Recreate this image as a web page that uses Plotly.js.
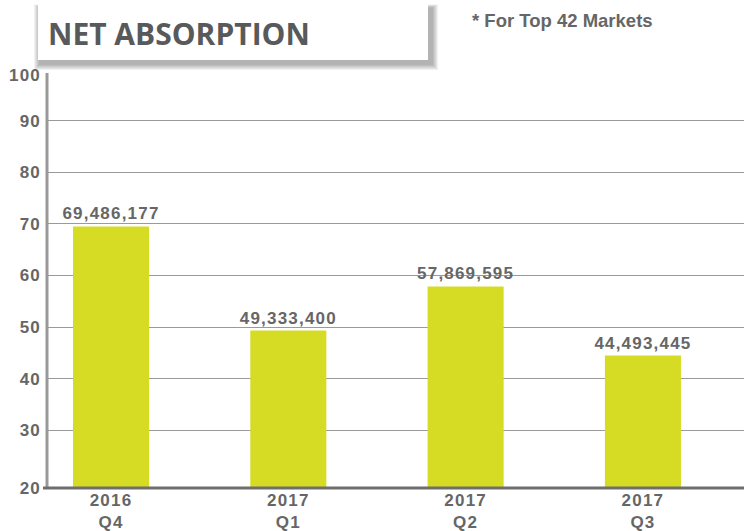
<!DOCTYPE html>
<html><head><meta charset="utf-8">
<script src="https://cdn.plot.ly/plotly-3.0.1.min.js"></script>
<style>
html,body{margin:0;padding:0;background:#fff;}
.xtick text,.ytick text,text.bartext{letter-spacing:1.2px;}
</style></head>
<body><div id="chart" style="width:744px;height:531px;"></div>
<script>
const categories = ["2016<br>Q4", "2017<br>Q1", "2017<br>Q2", "2017<br>Q3"];
const valuesMillions = [69.486177, 49.3334, 57.869595, 44.493445];
const valueLabels = ["69,486,177", "49,333,400", "57,869,595", "44,493,445"];
const yTickLabels = ["20", "30", "40", "50", "60", "70", "80", "90", "100"];
const titleText = "NET ABSORPTION";
const noteText = "* For Top 42 Markets";

const W = 744, H = 531, L = 47, R = 744, T = 75, B = 488;
const yMin = 18.83, yMax = 98.83;
const px = v => (v - L) / (R - L);
const py = v => (B - v) / (B - T);

const yTickVals = yTickLabels.map((t, i) =>
  i === 0 ? yMin : (i === yTickLabels.length - 1 ? yMax : Number(t)));

const gray = '#666666';
const tickFont = {family: 'Liberation Sans, Arial, sans-serif', size: 17, color: gray, weight: 700};

const shapes = [];
// shadow of title box
for (let k = 6; k >= 1; k--) {
  shapes.push({type: 'rect', xref: 'paper', yref: 'paper', layer: 'above',
    x0: px(40 - k), x1: px(432 + k), y0: py(8 - k * 0.6), y1: py(64 + k),
    fillcolor: 'rgba(0,0,0,0.055)', line: {width: 0}});
}
shapes.push({type: 'rect', xref: 'paper', yref: 'paper', layer: 'above',
  x0: px(38), x1: px(428), y0: py(4), y1: py(60),
  fillcolor: '#ffffff', line: {width: 0}});
// axis lines
shapes.push({type: 'line', xref: 'paper', yref: 'paper', layer: 'above',
  x0: 0, x1: 0, y0: 0, y1: py(73), line: {color: '#999999', width: 3}});
shapes.push({type: 'line', xref: 'paper', yref: 'paper', layer: 'above',
  x0: px(43), x1: 1, y0: 0, y1: 0, line: {color: '#6e6e6e', width: 3}});

const data = [{
  type: 'bar',
  x: categories,
  y: valuesMillions,
  text: valueLabels,
  textposition: 'outside',
  constraintext: 'none',
  cliponaxis: false,
  textfont: {family: 'Liberation Sans, Arial, sans-serif', size: 17, color: gray, weight: 700},
  marker: {color: '#d6dc24'},
  hoverinfo: 'none'
}];

const layout = {
  width: W, height: H,
  margin: {l: L, r: W - R, t: T, b: H - B, pad: 0},
  paper_bgcolor: '#ffffff', plot_bgcolor: '#ffffff',
  showlegend: false,
  bargap: 0.571,
  xaxis: {type: 'category', range: [-0.361, 3.570], showgrid: false, zeroline: false,
    showline: false, ticks: '', tickfont: tickFont, fixedrange: true},
  yaxis: {range: [yMin, yMax], tickmode: 'array', tickvals: yTickVals, ticktext: yTickLabels,
    showgrid: true, gridcolor: '#9a9a9a', gridwidth: 1, zeroline: false, showline: false,
    ticks: '', tickfont: tickFont, ticklabelstandoff: 5, fixedrange: true},
  shapes: shapes,
  annotations: [
    {xref: 'paper', yref: 'paper', x: px(46), y: py(33), xanchor: 'left', yanchor: 'middle',
     text: titleText, showarrow: false,
     font: {family: 'Open Sans, sans-serif', size: 30, color: '#58595b', weight: 700}},
    {xref: 'paper', yref: 'paper', x: px(470), y: py(21), xanchor: 'left', yanchor: 'middle',
     text: noteText, showarrow: false,
     font: {family: 'Liberation Sans, Arial, sans-serif', size: 18.5, color: gray, weight: 700}}
  ]
};

Plotly.newPlot('chart', data, layout, {displayModeBar: false, staticPlot: true});
</script>
</body></html>
